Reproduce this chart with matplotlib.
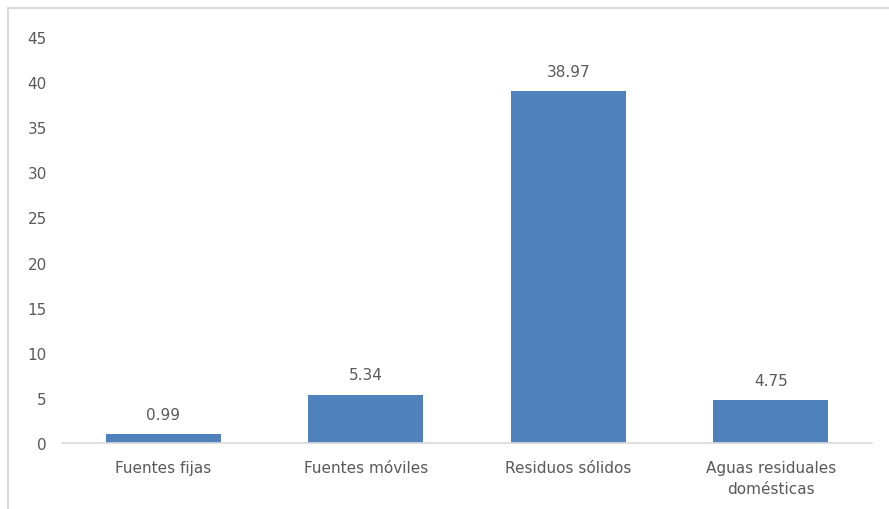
import matplotlib.pyplot as plt
from matplotlib.lines import Line2D

categories = ["Fuentes fijas", "Fuentes móviles", "Residuos sólidos", "Aguas residuales\ndomésticas"]
values = [0.99, 5.34, 38.97, 4.75]
yticks = [0, 5, 10, 15, 20, 25, 30, 35, 40, 45]

text_color = "#595959"
bar_color = "#4F81BD"

plt.rcParams['font.family'] = ['DejaVu Sans']

fig = plt.figure(figsize=(8.89, 5.10), dpi=100)
ax = fig.add_axes([62 / 889, 1 - 444 / 510, 810 / 889, 406 / 510])

x = range(len(categories))
bars = ax.bar(x, values, width=0.57, color=bar_color)

for b, v in zip(bars, values):
    ax.annotate(f"{v:.2f}", (b.get_x() + b.get_width() / 2, v),
                xytext=(0, 9), textcoords="offset points",
                ha="center", va="bottom", fontsize=11, color=text_color)

ax.set_xlim(-0.5, len(categories) - 0.5)
ax.set_ylim(0, 45)
ax.set_yticks(yticks)
ax.set_xticks(list(x))
ax.set_xticklabels(categories, fontsize=11, color=text_color, linespacing=1.5)
ax.tick_params(axis="y", length=0, pad=11, labelsize=11, labelcolor=text_color)
ax.tick_params(axis="x", length=0, pad=12)

for s in ["top", "right", "left"]:
    ax.spines[s].set_visible(False)
ax.spines["bottom"].set_color("#d9d9d9")
ax.spines["bottom"].set_linewidth(1.2)

# chart frame (top and left edges visible)
fig.add_artist(Line2D([7.5 / 889, 1.0], [1 - 8.5 / 510, 1 - 8.5 / 510],
                      transform=fig.transFigure, color="#d9d9d9", lw=1.5))
fig.add_artist(Line2D([7.5 / 889, 7.5 / 889], [0.0, 1 - 8.5 / 510],
                      transform=fig.transFigure, color="#d9d9d9", lw=1.5))

fig.savefig("out.png", dpi=100)
